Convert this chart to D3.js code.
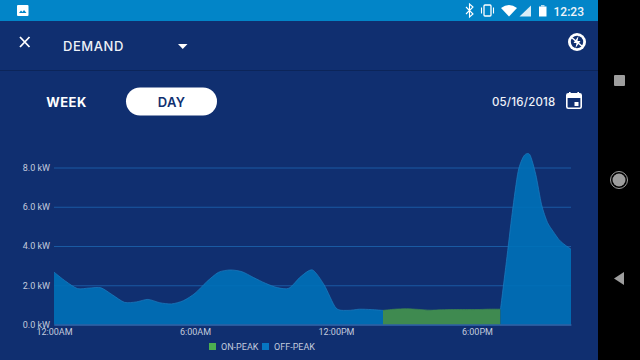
<!DOCTYPE html>
<html>
<head>
<meta charset="utf-8">
<script src="https://cdn.jsdelivr.net/npm/d3@7"></script>
<style>
    html, body { margin: 0; padding: 0; background: #000; overflow: hidden; }
    svg { display: block; }
    .axis-label { font-family: Roboto, sans-serif; font-size: 9px; fill: #c3cbdd; }
    .ui { font-family: Inter, "Open Sans", sans-serif; }
</style>
</head>
<body>
<div id="chart"></div>
<script>
// readings every half hour, 12:00AM to 7:00PM, then every quarter hour through the evening peak
const hours = [
    0, 0.5, 1, 1.5, 2, 2.5, 3, 3.5, 4, 4.5, 5, 5.5, 6, 6.5, 7, 7.5, 8, 8.5, 9, 9.5, 10,
    10.5, 11, 11.5, 12, 12.5, 13, 13.5, 14, 14.5, 15, 15.5, 16, 16.5, 17, 17.5, 18, 18.5, 19,
    19.25, 19.5, 19.75, 20, 20.25, 20.5, 20.75, 21, 21.25, 21.5, 21.75, 22
];
const demandKw = [
    2.67, 2.2, 1.83, 1.86, 1.87, 1.5, 1.13, 1.15, 1.28, 1.11, 1.05, 1.21, 1.59, 2.18, 2.66, 2.78, 2.69, 2.39, 2.1, 1.88, 1.85,
    2.44, 2.78, 2.01, 0.84, 0.72, 0.78, 0.76, 0.72, 0.78, 0.8, 0.77, 0.73, 0.75, 0.76, 0.76, 0.76, 0.78, 0.78,
    3.2, 5.7, 7.8, 8.6, 8.65, 7.65, 6.1, 5.2, 4.73, 4.31, 4.05, 3.84
];
const onPeakRange = [14, 19];
const yTicks = [0, 2, 4, 6, 8];
const xTicks = [0, 6, 12, 18];
const xTickLabels = ["12:00AM", "6:00AM", "12:00PM", "6:00PM"];
const legendNames = ["ON-PEAK", "OFF-PEAK"];
const legendColors = ["#4caf50", "#0677c2"];

const W = 640, H = 360;

const svg = d3.select("#chart").append("svg")
    .attr("width", W)
    .attr("height", H)
    .attr("viewBox", `0 0 ${W} ${H}`);

// app background, status bar, nav bar
svg.append("rect").attr("width", 598).attr("height", H).attr("fill", "#102f70");
svg.append("rect").attr("width", 598).attr("height", 21).attr("fill", "#0285c8");
svg.append("rect").attr("x", 598).attr("width", 42).attr("height", H).attr("fill", "#000");
svg.append("rect").attr("y", 70).attr("width", 598).attr("height", 1).attr("fill", "#0c2559");

const x = d3.scaleLinear().domain([0, 22]).range([54, 571]);
const y = d3.scaleLinear().domain([0, 8]).range([324.5, 167.5]);

// grid and y labels
const yAxis = svg.append("g")
    .attr("transform", "translate(54,0)")
    .call(d3.axisLeft(y)
        .tickValues(yTicks)
        .tickSize(-517)
        .tickPadding(4)
        .tickFormat(d => `${d.toFixed(1)} kW`));
yAxis.select(".domain").remove();
yAxis.selectAll("line").attr("stroke", "#1a5aa3");
yAxis.selectAll("text").attr("class", "axis-label").attr("fill", null);

const points = hours.map((h, i) => ({ h, v: demandKw[i] }));

const curve = d3.curveCardinal.tension(0.25);

const area = d3.area()
    .x(d => x(d.h))
    .y0(y(0))
    .y1(d => y(d.v))
    .curve(curve);

const line = d3.line()
    .x(d => x(d.h))
    .y(d => y(d.v))
    .curve(curve);

const offPeakFill = "#0071b8";
const segments = [
    { color: offPeakFill, edge: "#1c7cc0", pts: points.filter(d => d.h <= onPeakRange[0]) },
    { color: "#3f8a50", edge: "#3f8a50", pts: points.filter(d => d.h >= onPeakRange[0] && d.h <= onPeakRange[1]) },
    { color: offPeakFill, edge: "#1c7cc0", pts: points.filter(d => d.h >= onPeakRange[1]) }
];

segments.forEach(seg => {
    svg.append("path")
        .attr("d", area(seg.pts))
        .attr("fill", seg.color)
        .attr("fill-opacity", seg.color === offPeakFill ? 0.9 : 1);
    svg.append("path")
        .attr("d", line(seg.pts))
        .attr("fill", "none")
        .attr("stroke", seg.edge)
        .attr("stroke-width", 0.7);
});

// x axis
const xAxis = svg.append("g")
    .attr("transform", `translate(0,${y(0)})`)
    .call(d3.axisBottom(x)
        .tickValues(xTicks)
        .tickSize(0)
        .tickPadding(4)
        .tickFormat((d, i) => xTickLabels[i]));
xAxis.select(".domain").attr("stroke", "#3f6cae");
xAxis.selectAll("text").attr("class", "axis-label").attr("fill", null);

// legend
const legendX = [209, 262];
legendNames.forEach((name, i) => {
    svg.append("rect")
        .attr("x", legendX[i])
        .attr("y", 343)
        .attr("width", 7)
        .attr("height", 7)
        .attr("fill", legendColors[i]);
    svg.append("text")
        .attr("class", "axis-label")
        .attr("x", legendX[i] + 12)
        .attr("y", 349.5)
        .text(name);
});

// header
const white = "#ffffff";
svg.append("path")
    .attr("d", "M20 37L29.5 47M29.5 37L20 47")
    .attr("stroke", white)
    .attr("stroke-width", 1.8)
    .attr("fill", "none");
svg.append("text")
    .attr("class", "ui")
    .attr("x", 63)
    .attr("y", 50.5)
    .attr("font-size", 13)
    .attr("font-weight", 500)
    .attr("letter-spacing", 0.55)
    .attr("fill", "#eef1f7")
    .text("DEMAND");
svg.append("path").attr("d", "M178 44H187.5L182.75 49Z").attr("fill", white);

// bolt icon
const bolt = svg.append("g").attr("transform", "translate(577,42)");
bolt.append("circle").attr("r", 9).attr("fill", white);
bolt.append("circle").attr("r", 6.2).attr("fill", "#102f70");
bolt.append("path").attr("d", "M1.5 -6L-3.5 1H-0.5L-1.5 6L3.5 -1H0.5Z").attr("fill", white);
bolt.append("path").attr("d", "M-6 -5L6 5").attr("stroke", white).attr("stroke-width", 1.6);

// week / day toggle
svg.append("text")
    .attr("class", "ui")
    .attr("x", 66.5)
    .attr("y", 106.5)
    .attr("text-anchor", "middle")
    .attr("font-size", 13)
    .attr("font-weight", 700)
    .attr("letter-spacing", 0.5)
    .attr("fill", white)
    .text("WEEK");
svg.append("rect")
    .attr("x", 126)
    .attr("y", 87.5)
    .attr("width", 91)
    .attr("height", 28)
    .attr("rx", 14)
    .attr("fill", white);
svg.append("text")
    .attr("class", "ui")
    .attr("x", 171.5)
    .attr("y", 106.5)
    .attr("text-anchor", "middle")
    .attr("font-size", 13)
    .attr("font-weight", 600)
    .attr("letter-spacing", 0.3)
    .attr("fill", "#102f70")
    .text("DAY");

// date
svg.append("text")
    .attr("class", "ui")
    .attr("x", 555.5)
    .attr("y", 106)
    .attr("text-anchor", "end")
    .attr("font-size", 11.5)
    .attr("font-weight", 500)
    .attr("letter-spacing", 0.2)
    .attr("fill", "#eef1f7")
    .text("05/16/2018");
const cal = svg.append("g").attr("transform", "translate(566,92)");
cal.append("rect").attr("x", 0.8).attr("y", 1.8).attr("width", 14.4).attr("height", 14.4).attr("rx", 1.5).attr("fill", "none").attr("stroke", white).attr("stroke-width", 1.6);
cal.append("rect").attr("x", 1).attr("y", 2).attr("width", 14).attr("height", 4).attr("fill", white);
cal.append("rect").attr("x", 3).attr("y", 0).attr("width", 1.6).attr("height", 3).attr("fill", white);
cal.append("rect").attr("x", 11.4).attr("y", 0).attr("width", 1.6).attr("height", 3).attr("fill", white);
cal.append("rect").attr("x", 8.5).attr("y", 10).attr("width", 4).attr("height", 4).attr("fill", white);

// status bar
svg.append("rect").attr("x", 17).attr("y", 5).attr("width", 11.5).attr("height", 11).attr("rx", 1).attr("fill", white);
svg.append("path").attr("d", "M19 13L21 10.5L22.5 12L24 10L26.5 13Z").attr("fill", "#0285c8");
svg.append("path")
    .attr("d", "M466 7L473 14L469.5 17V4L473 7L466 14")
    .attr("fill", "none")
    .attr("stroke", white)
    .attr("stroke-width", 1.1);
svg.append("rect").attr("x", 484).attr("y", 5).attr("width", 7).attr("height", 11).attr("rx", 1).attr("fill", "none").attr("stroke", white).attr("stroke-width", 1.3);
svg.append("path").attr("d", "M481.5 7.5V13.5M493.5 7.5V13.5").attr("stroke", white).attr("stroke-width", 1.1);
svg.append("path").attr("d", "M501 8Q509 2 517 8L509 16.5Z").attr("fill", white);
svg.append("path").attr("d", "M531 5.5V16.5H519.5Z").attr("fill", white).attr("fill-opacity", 0.85);
svg.append("rect").attr("x", 539).attr("y", 6.5).attr("width", 7.5).attr("height", 10).attr("fill", white);
svg.append("rect").attr("x", 541).attr("y", 5).attr("width", 3.5).attr("height", 1.5).attr("fill", white).attr("fill-opacity", 0.7);
svg.append("text")
    .attr("x", 584)
    .attr("y", 16)
    .attr("text-anchor", "end")
    .attr("font-family", "Roboto, sans-serif")
    .attr("font-size", 12)
    .attr("font-weight", 500)
    .attr("fill", "#eef4fa")
    .text("12:23");

// android nav buttons
svg.append("rect").attr("x", 614).attr("y", 75).attr("width", 11).attr("height", 11).attr("rx", 1).attr("fill", "#9e9e9e");
svg.append("circle").attr("cx", 619).attr("cy", 180).attr("r", 6.5).attr("fill", "#9e9e9e");
svg.append("circle").attr("cx", 619).attr("cy", 180).attr("r", 8.5).attr("fill", "none").attr("stroke", "#9e9e9e").attr("stroke-width", 1);
svg.append("path").attr("d", "M624 272V285L614 278.5Z").attr("fill", "#9e9e9e");
</script>
</body>
</html>
